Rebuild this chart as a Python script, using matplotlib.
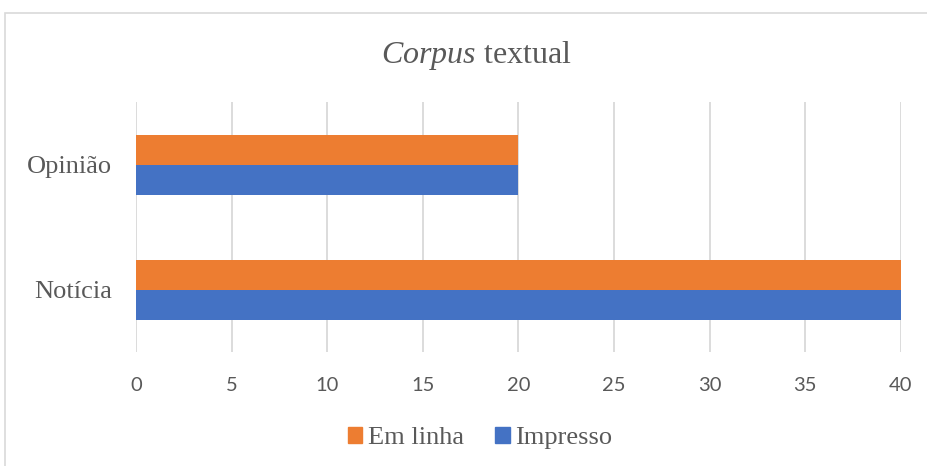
import matplotlib.pyplot as plt
from matplotlib.patches import Rectangle, Patch
import numpy as np

categories = ["Notícia", "Opinião"]
em_linha = [40, 20]
impresso = [40, 20]
series_names = ["Em linha", "Impresso"]
x_ticks = [0, 5, 10, 15, 20, 25, 30, 35, 40]

orange = "#ED7D31"
blue = "#4472C4"
text_gray = "#595959"
grid_gray = "#D9D9D9"

plt.rcParams["mathtext.fontset"] = "custom"
plt.rcParams["mathtext.rm"] = "Liberation Serif"
plt.rcParams["mathtext.it"] = "Liberation Serif:italic"

fig = plt.figure(figsize=(9.28, 4.66), dpi=100)
ax = fig.add_axes([136 / 928, 114 / 466, 765 / 928, 250 / 466])

# chart frame (runs past the right and bottom edges in the reference)
fig.patches.append(Rectangle((5 / 928, -0.1), 1.2, (466 - 13) / 466 + 0.1,
                             transform=fig.transFigure, fill=False,
                             edgecolor=grid_gray, linewidth=1.2, clip_on=False))

y = np.arange(len(categories)) + 0.5
h = 0.24
ax.barh(y + h / 2, em_linha, height=h, color=orange, zorder=3)
ax.barh(y - h / 2, impresso, height=h, color=blue, zorder=3)

ax.set_xlim(0, 40)
ax.set_ylim(0, len(categories))
ax.set_xticks(x_ticks)
ax.set_yticks(y)
ax.set_yticklabels(categories, family="Liberation Serif", fontsize=19, color=text_gray)
for lab in ax.get_xticklabels():
    lab.set_family("Lato")
    lab.set_fontsize(14.5)
    lab.set_color(text_gray)
ax.tick_params(axis="both", length=0)
ax.tick_params(axis="x", pad=18)
ax.tick_params(axis="y", pad=17)
ax.grid(axis="x", color=grid_gray, linewidth=1.3, zorder=0)
for s in ax.spines.values():
    s.set_visible(False)

fig.text(476 / 928, 1 - 55 / 466, r"$\mathit{Corpus}$ textual", ha="center", va="center",
         fontsize=23, color=text_gray, family="Liberation Serif")

handles = [Patch(color=orange), Patch(color=blue)]
fig.legend(handles, series_names, loc="center", bbox_to_anchor=(480 / 928, 1 - 438 / 466),
           ncol=2, frameon=False, handlelength=0.55, handleheight=0.55, handletextpad=0.2,
           columnspacing=1.2, prop={"family": "Liberation Serif", "size": 19},
           labelcolor=text_gray)

fig.savefig("out.png", dpi=100)
